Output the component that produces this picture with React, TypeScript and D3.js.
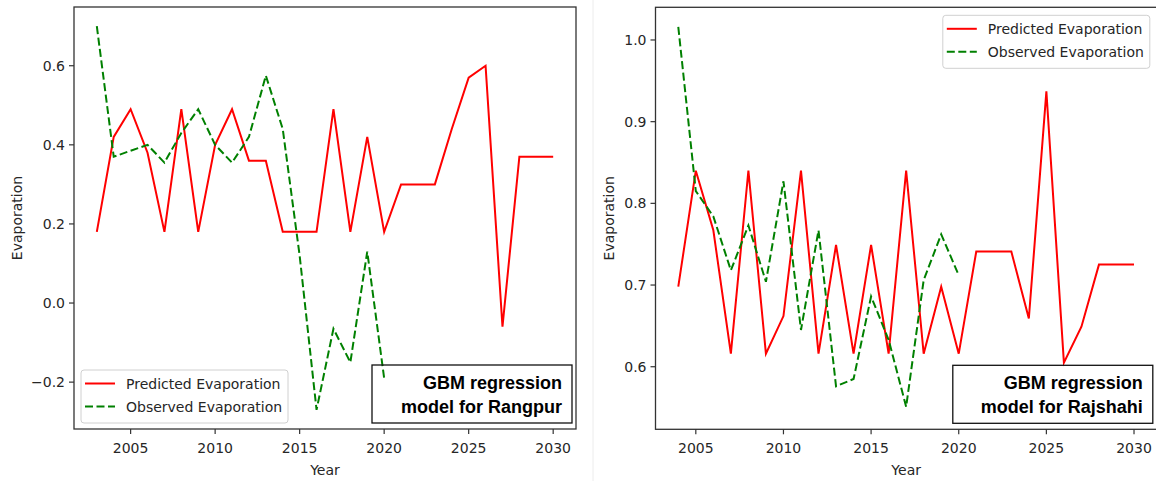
import React from "react";
import * as d3 from "d3";

// ---------- DATA ----------
const rangpurPredYears = [2003, 2004, 2005, 2006, 2007, 2008, 2009, 2010, 2011, 2012, 2013, 2014, 2015, 2016, 2017, 2018, 2019, 2020, 2021, 2022, 2023, 2024, 2025, 2026, 2027, 2028, 2029, 2030];
const rangpurPred = [0.18, 0.42, 0.49, 0.38, 0.18, 0.49, 0.18, 0.40, 0.49, 0.36, 0.36, 0.18, 0.18, 0.18, 0.49, 0.18, 0.42, 0.18, 0.30, 0.30, 0.30, 0.44, 0.57, 0.60, -0.06, 0.37, 0.37, 0.37];
const rangpurObsYears = [2003, 2004, 2005, 2006, 2007, 2008, 2009, 2010, 2011, 2012, 2013, 2014, 2015, 2016, 2017, 2018, 2019, 2020];
const rangpurObs = [0.70, 0.37, 0.385, 0.40, 0.355, 0.43, 0.49, 0.40, 0.355, 0.42, 0.575, 0.44, 0.12, -0.27, -0.065, -0.15, 0.13, -0.19];

const rajshahiPredYears = [2004, 2005, 2006, 2007, 2008, 2009, 2010, 2011, 2012, 2013, 2014, 2015, 2016, 2017, 2018, 2019, 2020, 2021, 2022, 2023, 2024, 2025, 2026, 2027, 2028, 2029, 2030];
const rajshahiPred = [0.698, 0.84, 0.767, 0.616, 0.84, 0.616, 0.662, 0.84, 0.616, 0.749, 0.616, 0.749, 0.616, 0.84, 0.616, 0.698, 0.616, 0.741, 0.741, 0.741, 0.659, 0.937, 0.605, 0.649, 0.725, 0.725, 0.725];
const rajshahiObsYears = [2004, 2005, 2006, 2007, 2008, 2009, 2010, 2011, 2012, 2013, 2014, 2015, 2016, 2017, 2018, 2019, 2020];
const rajshahiObs = [1.016, 0.815, 0.784, 0.718, 0.773, 0.704, 0.827, 0.645, 0.767, 0.576, 0.585, 0.686, 0.633, 0.551, 0.706, 0.762, 0.712];

const xTicks = [2005, 2010, 2015, 2020, 2025, 2030];
const rangpurYTicks = [-0.2, 0.0, 0.2, 0.4, 0.6];
const rajshahiYTicks = [0.6, 0.7, 0.8, 0.9, 1.0];

const seriesNames = ["Predicted Evaporation", "Observed Evaporation"];
const xLabel = "Year";
const yLabel = "Evaporation";

// ---------- STYLE ----------
const FONT = "DejaVu Sans, sans-serif";
const TEXT = "#262626";
const RED = "#ff0000";
const GREEN = "#008000";

type PanelProps = {
  left: number; right: number; top: number; bottom: number;
  xDomain: [number, number]; yDomain: [number, number];
  predYears: number[]; pred: number[]; obsYears: number[]; obs: number[];
  yTicks: number[]; title: string[]; legendPos: "ll" | "ur"; ylabelX: number;
};

function Panel(p: PanelProps) {
  const x = d3.scaleLinear().domain(p.xDomain).range([p.left, p.right]);
  const y = d3.scaleLinear().domain(p.yDomain).range([p.bottom, p.top]);
  const line = d3.line<[number, number]>().x(d => x(d[0])).y(d => y(d[1]));
  const predPts = p.predYears.map((yr, i) => [yr, p.pred[i]] as [number, number]);
  const obsPts = p.obsYears.map((yr, i) => [yr, p.obs[i]] as [number, number]);
  const fmt = d3.format(".1f");
  const cx = (p.left + p.right) / 2;
  const cy = (p.top + p.bottom) / 2;

  // legend geometry
  const lgW = 207, lgH = 53;
  const lgX = p.legendPos === "ll" ? p.left + 7 : p.right - 7 - lgW;
  const lgY = p.legendPos === "ll" ? p.bottom - 6 - lgH : p.top + 8;

  // annotation box
  const abW = 200, abH = 58;
  const abX = p.right - 4 - abW;
  const abY = p.bottom - 6 - abH;

  return (
    <g>
      <defs>
        <clipPath id={"clip" + Math.round(p.left)}>
          <rect x={p.left} y={p.top} width={p.right - p.left} height={p.bottom - p.top} />
        </clipPath>
      </defs>
      <g clipPath={`url(#clip${Math.round(p.left)})`}>
        <path d={line(predPts) || ""} fill="none" stroke={RED} strokeWidth={2} strokeLinejoin="miter" />
        <path d={line(obsPts) || ""} fill="none" stroke={GREEN} strokeWidth={2} strokeDasharray="8,3.5" />
      </g>
      <rect x={p.left} y={p.top} width={p.right - p.left} height={p.bottom - p.top} fill="none" stroke="#333" strokeWidth={1.3} />
      {xTicks.map(t => (
        <g key={"x" + t}>
          <line x1={x(t)} x2={x(t)} y1={p.bottom} y2={p.bottom + 5} stroke="#333" strokeWidth={1.2} />
          <text x={x(t)} y={p.bottom + 24} textAnchor="middle" fontFamily={FONT} fontSize={14} fill={TEXT}>{t}</text>
        </g>
      ))}
      {p.yTicks.map(t => (
        <g key={"y" + t}>
          <line x1={p.left - 5} x2={p.left} y1={y(t)} y2={y(t)} stroke="#333" strokeWidth={1.2} />
          <text x={p.left - 9} y={y(t) + 5} textAnchor="end" fontFamily={FONT} fontSize={14} fill={TEXT}>{fmt(t)}</text>
        </g>
      ))}
      <text x={cx} y={p.bottom + 46} textAnchor="middle" fontFamily={FONT} fontSize={14} fill={TEXT}>{xLabel}</text>
      <text transform={`translate(${p.ylabelX},${cy}) rotate(-90)`} textAnchor="middle" fontFamily={FONT} fontSize={14} fill={TEXT} dy="0.35em">{yLabel}</text>

      {/* legend */}
      <rect x={lgX} y={lgY} width={lgW} height={lgH} rx={3} fill="white" fillOpacity={0.85} stroke="#d0d0d0" strokeWidth={1} />
      <line x1={lgX + 4} x2={lgX + 34} y1={lgY + 13.5} y2={lgY + 13.5} stroke={RED} strokeWidth={2} />
      <line x1={lgX + 4} x2={lgX + 34} y1={lgY + 36.5} y2={lgY + 36.5} stroke={GREEN} strokeWidth={2} strokeDasharray="8,3.5" />
      <text x={lgX + 45} y={lgY + 18.5} fontFamily={FONT} fontSize={14} fill={TEXT}>{seriesNames[0]}</text>
      <text x={lgX + 45} y={lgY + 41.5} fontFamily={FONT} fontSize={14} fill={TEXT}>{seriesNames[1]}</text>

      {/* annotation */}
      <rect x={abX} y={abY} width={abW} height={abH} fill="none" stroke="#111" strokeWidth={1.3} />
      <text x={abX + abW - 10} y={abY + 24} textAnchor="end" fontFamily="Liberation Sans, Arial, sans-serif" fontWeight="bold" fontSize={18} fill="#000">{p.title[0]}</text>
      <text x={abX + abW - 10} y={abY + 48} textAnchor="end" fontFamily="Liberation Sans, Arial, sans-serif" fontWeight="bold" fontSize={18} fill="#000">{p.title[1]}</text>
    </g>
  );
}

export default function App() {
  return (
    <svg width={1156} height={481} style={{ position: "absolute", left: 0, top: 0, background: "white" }}>
      <rect x={0} y={0} width={1156} height={481} fill="white" />
      <line x1={593} x2={593} y1={0} y2={481} stroke="#ececec" strokeWidth={1} />
      <Panel
        left={74} right={576} top={7} bottom={429}
        xDomain={[2001.65, 2031.35]} yDomain={[-0.3185, 0.7485]}
        predYears={rangpurPredYears} pred={rangpurPred}
        obsYears={rangpurObsYears} obs={rangpurObs}
        yTicks={rangpurYTicks} title={["GBM regression", "model for Rangpur"]}
        legendPos="ll" ylabelX={17}
      />
      <Panel
        left={655.5} right={1156.8} top={7.3} bottom={429.3}
        xDomain={[2002.7, 2031.3]} yDomain={[0.5234, 1.0400]}
        predYears={rajshahiPredYears} pred={rajshahiPred}
        obsYears={rajshahiObsYears} obs={rajshahiObs}
        yTicks={rajshahiYTicks} title={["GBM regression", "model for Rajshahi"]}
        legendPos="ur" ylabelX={609}
      />
    </svg>
  );
}
